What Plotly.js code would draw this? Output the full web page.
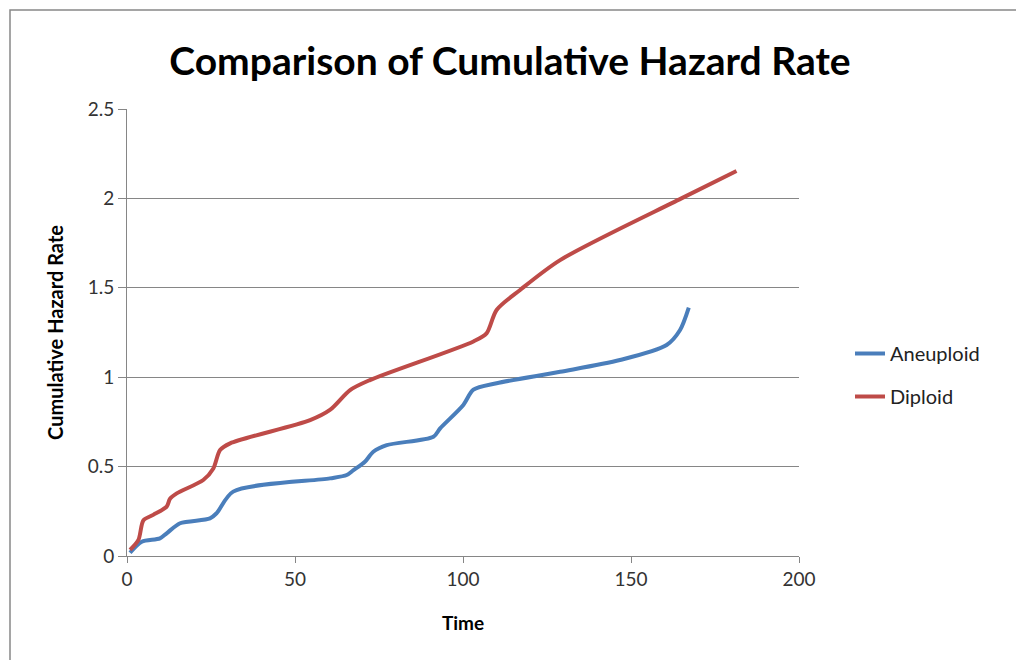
<!DOCTYPE html>
<html>
<head>
<meta charset="utf-8">
<script src="https://cdn.plot.ly/plotly-3.0.1.min.js"></script>
<style>html,body{margin:0;padding:0;background:#fff;}#chart{width:1016px;height:660px;}</style>
</head>
<body>
<div id="chart"></div>
<script>
const aneuploidTime = [0.9, 4.4, 9.8, 11.8, 15.8, 24.7, 26.7, 31.6, 60.4, 65.4, 67.4, 70.8, 73.3, 77.3, 91.2, 93.2, 100.1, 103.1, 110, 128.9, 146.7, 160.6, 164.6, 167.2];
const aneuploidHazard = [0.018, 0.08, 0.099, 0.127, 0.183, 0.21, 0.24, 0.36, 0.434, 0.453, 0.48, 0.527, 0.583, 0.62, 0.667, 0.714, 0.845, 0.93, 0.966, 1.03, 1.096, 1.18, 1.264, 1.389];
const diploidTime = [0.9, 3.4, 4.9, 7.8, 11.8, 12.8, 14.8, 22.7, 25.7, 27.7, 30.7, 54.5, 60.4, 66.4, 72.3, 103.1, 107, 110, 117, 128.9, 165, 181.4];
const diploidHazard = [0.034, 0.09, 0.2, 0.23, 0.276, 0.32, 0.35, 0.425, 0.49, 0.593, 0.63, 0.76, 0.817, 0.928, 0.984, 1.2, 1.245, 1.376, 1.488, 1.655, 2.0, 2.153];
const seriesNames = ["Aneuploid", "Diploid"];
const chartTitle = "Comparison of Cumulative Hazard Rate";
const xTitle = "Time";
const yTitle = "Cumulative Hazard Rate";

const font = "Lato, 'Open Sans', 'DejaVu Sans', sans-serif";
const traces = [
  {x: aneuploidTime, y: aneuploidHazard, name: seriesNames[0], legendgroup: "g1", mode: "lines",
   line: {color: "#4a7ebb", width: 4, shape: "spline", smoothing: 0.8}},
  {x: diploidTime, y: diploidHazard, name: seriesNames[1], legendgroup: "g2", mode: "lines",
   line: {color: "#be4b48", width: 4, shape: "spline", smoothing: 0.8}}
];
const layout = {
  width: 1016, height: 660,
  margin: {l: 127, r: 217, t: 109, b: 104},
  paper_bgcolor: "#fff", plot_bgcolor: "#fff",
  font: {family: font, color: "#333"},
  title: {text: "<b>" + chartTitle + "</b>", font: {family: font, size: 39, color: "#000"},
          x: (510 - 127) / 672, xref: "paper", xanchor: "center", y: 1 - 61/660, yref: "container", yanchor: "middle"},
  xaxis: {range: [0, 200], tickvals: [0, 50, 100, 150, 200], showgrid: false, zeroline: false,
          showline: true, linecolor: "#868686", linewidth: 1, ticks: "outside", ticklen: 6, tickcolor: "#868686",
          tickfont: {size: 19, color: "#333"},
          title: {text: "<b>" + xTitle + "</b>", font: {size: 19, color: "#000"}, standoff: 27}},
  yaxis: {range: [0, 2.5], tickvals: [0, 0.5, 1, 1.5, 2, 2.5], ticktext: ["0", "0.5", "1", "1.5", "2", "2.5"],
          showgrid: true, gridcolor: "#868686", gridwidth: 1, zeroline: false,
          showline: true, linecolor: "#868686", linewidth: 1, ticks: "outside", ticklen: 8, tickcolor: "#868686",
          tickfont: {size: 19, color: "#333"},
          title: {text: "<b>" + yTitle + "</b>", font: {size: 20, color: "#000"}, standoff: 18}},
  legend: {x: (850 - 127) / 672, y: (556 - 375) / 447, xanchor: "left", yanchor: "middle", font: {size: 20, color: "#222"},
           tracegroupgap: 14, bgcolor: "rgba(0,0,0,0)"},
  shapes: [{type: "rect", xref: "paper", yref: "paper", x0: (10 - 127) / 672, x1: (1030 - 127) / 672,
            y0: -0.3, y1: (556 - 10) / 447, line: {color: "#888", width: 1.5}, fillcolor: "rgba(0,0,0,0)", layer: "below"}]
};
Plotly.newPlot("chart", traces, layout, {displayModeBar: false, staticPlot: true});
</script>
</body>
</html>
